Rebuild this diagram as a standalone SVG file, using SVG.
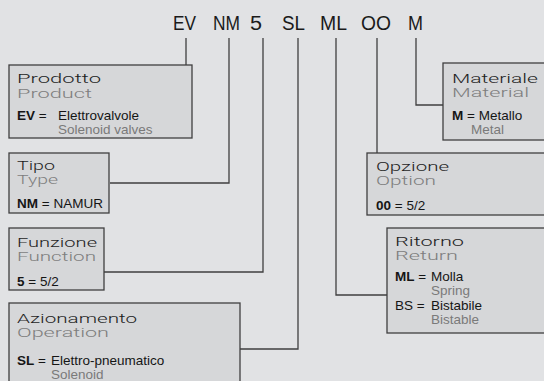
<svg xmlns="http://www.w3.org/2000/svg" width="544" height="381" viewBox="0 0 544 381">
<style>
.bg{fill:#e1e2e4}
.box{fill:#d6d7d9;stroke:#3f3f3f;stroke-width:1.3}
.ln{fill:none;stroke:#3f3f3f;stroke-width:1.3}
.code{font-family:"Liberation Sans",Arial,sans-serif;font-size:20px;fill:#1a1a1a}
.t{font-family:Roboto,"DejaVu Sans",sans-serif;font-weight:300;font-size:12.5px;fill:#1e1e1e}
.s{font-family:Roboto,"DejaVu Sans",sans-serif;font-weight:300;font-size:12.5px;fill:#7e7e7e}
.b{font-family:"Liberation Sans",Arial,sans-serif;font-size:13.5px;fill:#151515}
.g{font-family:"Liberation Sans",Arial,sans-serif;font-size:13.5px;fill:#7a7a7a}
.k{font-weight:bold}
</style>
<rect class="bg" x="0" y="0" width="544" height="381"/>
<g id="code">
<text class="code" x="173" y="30" textLength="23" lengthAdjust="spacingAndGlyphs">EV</text>
<text class="code" x="213" y="30" textLength="27" lengthAdjust="spacingAndGlyphs">NM</text>
<text class="code" x="250" y="30" textLength="12" lengthAdjust="spacingAndGlyphs">5</text>
<text class="code" x="282" y="30" textLength="23" lengthAdjust="spacingAndGlyphs">SL</text>
<text class="code" x="320" y="30" textLength="27" lengthAdjust="spacingAndGlyphs">ML</text>
<text class="code" x="361" y="30" textLength="30" lengthAdjust="spacingAndGlyphs">OO</text>
<text class="code" x="408" y="30" textLength="15" lengthAdjust="spacingAndGlyphs">M</text>
</g>
<g id="connectors">
<path class="ln" d="M186,38V65"/>
<path class="ln" d="M229,38V183H110"/>
<path class="ln" d="M263,38V272H104"/>
<path class="ln" d="M298,38V349H240"/>
<path class="ln" d="M336,38V295H387"/>
<path class="ln" d="M377,38V153"/>
<path class="ln" d="M416,38V105H443"/>
</g>
<g id="prodotto">
<rect class="box" x="9" y="65" width="183" height="73"/>
<text class="t" x="17" y="83" textLength="84" lengthAdjust="spacingAndGlyphs">Prodotto</text>
<text class="s" x="17" y="97.5" textLength="75" lengthAdjust="spacingAndGlyphs">Product</text>
<text class="b" x="17" y="119.5"><tspan class="k">EV</tspan> =</text>
<text class="b" x="58" y="119.5">Elettrovalvole</text>
<text class="g" x="58" y="133.5">Solenoid valves</text>
</g>
<g id="tipo">
<rect class="box" x="9" y="153" width="100" height="60"/>
<text class="t" x="17" y="169.5" textLength="38" lengthAdjust="spacingAndGlyphs">Tipo</text>
<text class="s" x="17" y="183.5" textLength="41" lengthAdjust="spacingAndGlyphs">Type</text>
<text class="b" x="17" y="208"><tspan class="k">NM</tspan> = NAMUR</text>
</g>
<g id="funzione">
<rect class="box" x="9" y="228" width="95" height="62"/>
<text class="t" x="17" y="246.5" textLength="80" lengthAdjust="spacingAndGlyphs">Funzione</text>
<text class="s" x="17" y="261" textLength="79" lengthAdjust="spacingAndGlyphs">Function</text>
<text class="b" x="17" y="286"><tspan class="k">5</tspan> = 5/2</text>
</g>
<g id="azionamento">
<rect class="box" x="9" y="303" width="231" height="90"/>
<text class="t" x="17" y="322.5" textLength="120" lengthAdjust="spacingAndGlyphs">Azionamento</text>
<text class="s" x="17" y="337" textLength="92" lengthAdjust="spacingAndGlyphs">Operation</text>
<text class="b" x="17" y="365"><tspan class="k">SL</tspan> =</text>
<text class="b" x="51" y="365">Elettro-pneumatico</text>
<text class="g" x="51" y="378.5">Solenoid</text>
</g>
<g id="materiale">
<rect class="box" x="443" y="63" width="110" height="77"/>
<text class="t" x="452" y="82.5" textLength="86" lengthAdjust="spacingAndGlyphs">Materiale</text>
<text class="s" x="452" y="97" textLength="77" lengthAdjust="spacingAndGlyphs">Material</text>
<text class="b" x="452" y="119.5"><tspan class="k">M</tspan> = Metallo</text>
<text class="g" x="471" y="133.5">Metal</text>
</g>
<g id="opzione">
<rect class="box" x="367" y="153" width="186" height="62"/>
<text class="t" x="376" y="171" textLength="73" lengthAdjust="spacingAndGlyphs">Opzione</text>
<text class="s" x="376" y="185" textLength="60" lengthAdjust="spacingAndGlyphs">Option</text>
<text class="b" x="376" y="210"><tspan class="k">00</tspan> = 5/2</text>
</g>
<g id="ritorno">
<rect class="box" x="387" y="228" width="166" height="105"/>
<text class="t" x="395" y="246" textLength="69" lengthAdjust="spacingAndGlyphs">Ritorno</text>
<text class="s" x="395" y="260" textLength="63" lengthAdjust="spacingAndGlyphs">Return</text>
<text class="b" x="395" y="281"><tspan class="k">ML</tspan> =</text>
<text class="b" x="431" y="281">Molla</text>
<text class="g" x="431" y="295">Spring</text>
<text class="b" x="395" y="310">BS =</text>
<text class="b" x="431" y="310">Bistabile</text>
<text class="g" x="431" y="324">Bistable</text>
</g>
</svg>
